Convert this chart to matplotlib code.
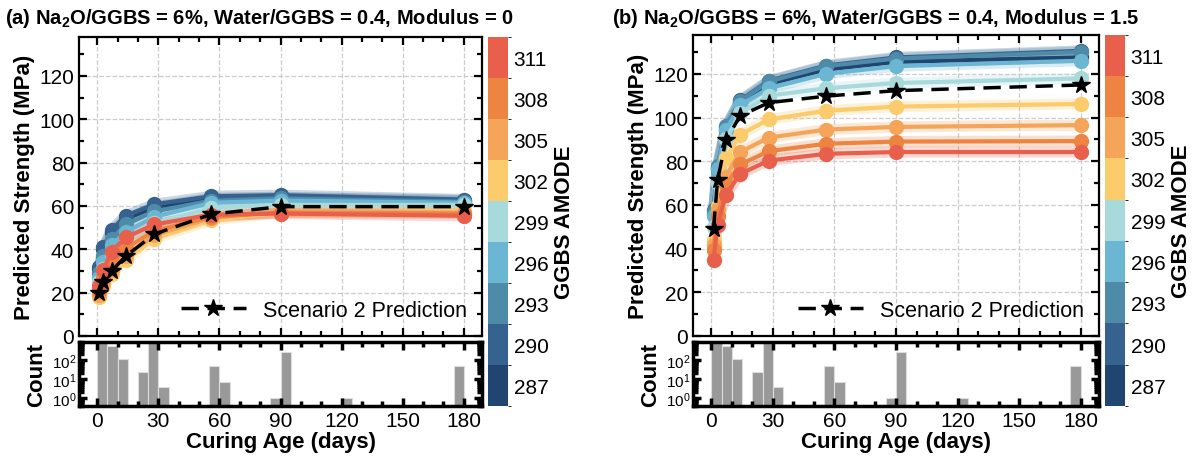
import matplotlib
matplotlib.use('Agg')
import matplotlib.pyplot as plt
from matplotlib.colors import ListedColormap, BoundaryNorm
from matplotlib.ticker import MultipleLocator
import numpy as np

plt.rcParams['font.family'] = ['Liberation Sans', 'DejaVu Sans']
plt.rcParams['mathtext.default'] = 'regular'

ages = [1, 3, 7, 14, 28, 56, 90, 180]
amode = [287, 290, 293, 296, 299, 302, 305, 308, 311]
colors = ['#1F4570', '#35628F', '#4D8BA9', '#6BB6D3', '#A8DADC',
          '#FCCB6B', '#F5A55A', '#EE8441', '#E8604C']

# Modulus = 0
strength_a = [
    [31, 40, 48, 54, 59.5, 63.5, 64, 62.5],
    [32, 41, 49, 55.5, 60.8, 64.5, 65, 63],
    [29, 37, 45, 51.5, 57.5, 62.5, 63.5, 62],
    [27, 34, 42, 48, 55, 61.5, 62.5, 61.5],
    [25, 31, 38, 44, 52, 59, 60.5, 60.5],
    [18, 23, 28.5, 35, 45, 53.5, 57, 57.5],
    [19, 24.5, 30.5, 37, 46.5, 54.5, 57.5, 57],
    [21, 27, 34, 40.5, 48.5, 55, 57, 56.5],
    [23, 30.5, 39, 45.5, 51.5, 56, 56.5, 55.5],
]
scenario_a = [20, 24.7, 30, 36.9, 47, 56.2, 59.7, 59.7]

# Modulus = 1.5
strength_b = [
    [56, 76.5, 94.5, 106.5, 115.5, 122, 125.5, 127.5],
    [57.5, 77.5, 95.5, 107.8, 116.8, 123.8, 127.5, 130.5],
    [57, 78, 96, 107.5, 116.5, 123.5, 127, 130],
    [55, 76.5, 94.2, 105.7, 113.4, 120, 123.5, 126],
    [50, 70, 90, 102, 110, 113.4, 115.8, 117.9],
    [44, 59.5, 81.4, 92.2, 99.1, 103.1, 105, 106.2],
    [41.5, 58, 73, 84.2, 90.8, 94.5, 95.7, 96.5],
    [39.5, 55, 69, 78.5, 84.6, 88, 89, 89.2],
    [35, 51, 64.6, 74.2, 80.3, 83.4, 84.2, 84.2],
]
scenario_b = [49.1, 71.4, 89.5, 100.8, 106.8, 109.8, 112.3, 114.9]

# age histogram of the dataset (5-day bins)
bin_left = [0, 5, 10, 20, 25, 30, 55, 60, 85, 90, 120, 175]
bin_count = [1000, 560, 110, 25, 1000, 4, 47, 7, 1, 270, 1, 50]

titles = ['(a) Na$_2$O/GGBS = 6%, Water/GGBS = 0.4, Modulus = 0',
          '(b) Na$_2$O/GGBS = 6%, Water/GGBS = 0.4, Modulus = 1.5']

fig = plt.figure(figsize=(11.93, 4.6), dpi=100)
W, H = 1193, 460

cmap = ListedColormap(colors)
norm = BoundaryNorm(np.arange(285.5, 313, 3), cmap.N)


def style_ticks(ax, lw):
    ax.tick_params(which='both', direction='in', top=True, right=True, width=lw, labelsize=15)
    ax.tick_params(which='major', length=6)
    ax.tick_params(which='minor', length=3.5)
    for s in ax.spines.values():
        s.set_linewidth(lw)


panels = [
    (79, 482, 38, 488, strength_a, scenario_a, 5),
    (693, 1099, 35.5, 1105, strength_b, scenario_b, 612),
]

for i, (x0, x1, ytop, cx, data, scen, tx) in enumerate(panels):
    ax = fig.add_axes([x0 / W, (H - 337) / H, (x1 - x0) / W, (337 - ytop) / H])
    axh = fig.add_axes([x0 / W, (H - 407) / H, (x1 - x0) / W, 64 / H], sharex=ax)
    cax = fig.add_axes([cx / W, (H - 407) / H, 20 / W, (407 - ytop) / H])

    for vals, c in zip(data, colors):
        ax.plot(ages, vals, color=c, lw=8, alpha=0.25, solid_capstyle='round', zorder=2)
        ax.plot(ages, vals, color=c, lw=3, marker='o', ms=10, zorder=3)
    ax.plot(ages, scen, color='black', ls='--', lw=2.5, marker='*', ms=13,
            dashes=(5, 2.5), zorder=5, label='Scenario 2 Prediction')

    ax.set_xlim(-9, 189)
    ax.set_ylim(0, 138)
    ax.xaxis.set_major_locator(MultipleLocator(30))
    ax.xaxis.set_minor_locator(MultipleLocator(10))
    ax.yaxis.set_major_locator(MultipleLocator(20))
    ax.yaxis.set_minor_locator(MultipleLocator(10))
    ax.grid(True, which='major', ls='--', color='#cccccc', lw=0.9)
    ax.set_axisbelow(True)
    style_ticks(ax, 1.6)
    ax.tick_params(labelbottom=False)
    ax.set_ylabel('Predicted Strength (MPa)', fontsize=16, fontweight='bold', labelpad=3)
    ax.legend(loc='lower right', frameon=False, fontsize=15.5, handlelength=3.0,
              borderaxespad=0.3)

    axh.bar(bin_left, bin_count, width=5, align='edge', color='#999999',
            edgecolor='#dddddd', lw=0.8)
    axh.set_yscale('log')
    axh.set_ylim(0.38, 900)
    axh.set_yticks([1, 10, 100])
    axh.yaxis.set_minor_locator(matplotlib.ticker.LogLocator(subs=np.arange(2, 10)))
    axh.yaxis.set_minor_formatter(matplotlib.ticker.NullFormatter())
    style_ticks(axh, 2.5)
    axh.tick_params(axis='y', labelsize=11, pad=2)
    axh.set_xticks(range(0, 181, 30))
    axh.set_xlabel('Curing Age (days)', fontsize=16, fontweight='bold', labelpad=1)
    axh.set_ylabel('Count', fontsize=16, fontweight='bold', labelpad=3)

    sm = matplotlib.cm.ScalarMappable(cmap=cmap, norm=norm)
    cb = fig.colorbar(sm, cax=cax, ticks=amode)
    cb.outline.set_visible(False)
    cax.tick_params(length=0, labelsize=15, pad=4)
    cb.set_label('GGBS AMODE', fontsize=16, fontweight='bold', labelpad=4)

    fig.text(tx / W, 1 - 18 / H, titles[i], fontsize=14.5, fontweight='bold',
             ha='left', va='center')

fig.savefig('out.png', dpi=100)
